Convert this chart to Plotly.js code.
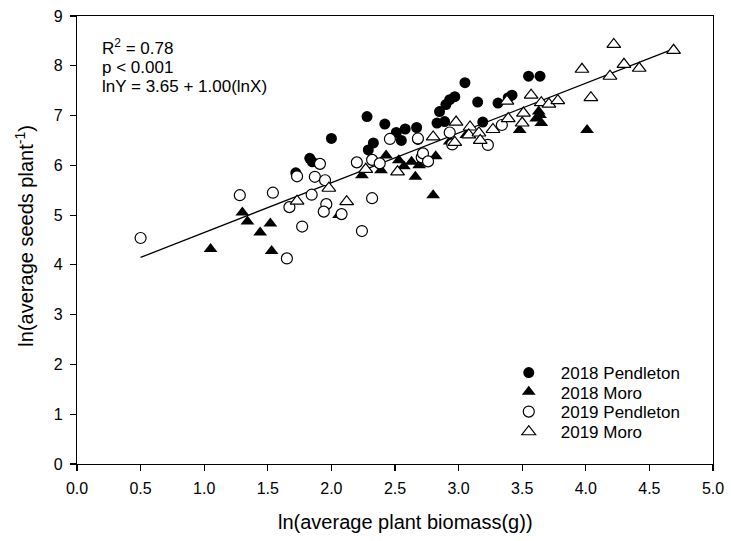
<!DOCTYPE html>
<html>
<head>
<meta charset="utf-8">
<script src="https://cdn.plot.ly/plotly-3.0.1.min.js"></script>
<style>
  html, body { margin: 0; padding: 0; background: #fff; }
  #chart { width: 731px; height: 541px; }
</style>
</head>
<body>
<div id="chart"></div>
<script>
// ln(average plant biomass) vs ln(average seeds per plant), by year and site
const pend18X = [1.72, 1.83, 1.85, 2.00, 2.28, 2.29, 2.33, 2.42, 2.51, 2.55, 2.58, 2.67, 2.68, 2.83, 2.85, 2.89, 2.90, 2.93, 2.97, 3.05, 3.15, 3.19, 3.31, 3.39, 3.42, 3.55, 3.64];
const pend18Y = [5.85, 6.14, 6.07, 6.54, 6.98, 6.31, 6.45, 6.83, 6.66, 6.50, 6.73, 6.76, 6.52, 6.85, 7.08, 6.88, 7.22, 7.32, 7.38, 7.66, 7.27, 6.87, 7.25, 7.36, 7.41, 7.79, 7.79];

const moro18X = [1.05, 1.30, 1.34, 1.44, 1.52, 1.53, 2.06, 2.24, 2.39, 2.43, 2.53, 2.57, 2.63, 2.69, 2.66, 2.82, 2.80, 2.93, 3.06, 3.48, 3.61, 3.63, 3.64, 3.65, 4.01];
const moro18Y = [4.32, 5.05, 4.87, 4.65, 4.83, 4.28, 5.00, 5.80, 5.90, 6.20, 6.10, 5.98, 6.07, 6.00, 5.77, 6.18, 5.40, 6.48, 6.61, 6.71, 6.94, 7.08, 7.01, 6.85, 6.71];

const pend19X = [0.50, 1.28, 1.54, 1.65, 1.67, 1.73, 1.77, 1.845, 1.87, 1.91, 1.95, 1.96, 1.94, 2.08, 2.24, 2.32, 2.20, 2.32, 2.38, 2.46, 2.68, 2.71, 2.72, 2.76, 2.93, 2.95, 3.23, 3.34];
const pend19Y = [4.54, 5.40, 5.45, 4.13, 5.16, 5.78, 4.77, 5.41, 5.77, 6.03, 5.70, 5.22, 5.07, 5.02, 4.68, 5.34, 6.06, 6.11, 6.04, 6.53, 6.54, 6.16, 6.24, 6.08, 6.66, 6.42, 6.41, 6.81];

const moro19X = [1.73, 1.98, 2.12, 2.27, 2.52, 2.80, 2.98, 2.97, 3.09, 3.08, 3.16, 3.17, 3.27, 3.39, 3.38, 3.50, 3.51, 3.57, 3.65, 3.71, 3.78, 3.97, 4.04, 4.19, 4.22, 4.30, 4.42, 4.69];
const moro19Y = [5.28, 5.54, 5.27, 5.92, 5.87, 6.57, 6.87, 6.46, 6.77, 6.61, 6.65, 6.50, 6.72, 6.94, 7.29, 6.85, 7.05, 7.41, 7.26, 7.23, 7.30, 7.93, 7.36, 7.79, 8.43, 8.03, 7.95, 8.31];

// fitted regression: lnY = 3.65 + 1.00(lnX)
const fitIntercept = 3.65;
const fitSlope = 1.00;
const fitX = [0.50, 4.68];
const fitY = fitX.map(x => fitIntercept + fitSlope * x);

const statLines = ['R<sup>2</sup> = 0.78', 'p &lt; 0.001', 'lnY = 3.65 + 1.00(lnX)'];
const seriesNames = ['2018 Pendleton', '2018 Moro', '2019 Pendleton', '2019 Moro'];

const FONT = 'Arial, "Liberation Sans", sans-serif';

function pts(x, y, name, symbol, filled, legendId) {
  return {
    x: x, y: y, name: name, type: 'scatter', mode: 'markers',
    legend: legendId,
    marker: {
      symbol: symbol,
      size: symbol === 'circle' ? 11 : 12,
      color: filled ? '#000' : '#fff',
      line: { color: '#000', width: filled ? 0 : 1.2 }
    },
    hoverinfo: 'x+y'
  };
}

const traces = [
  {
    x: fitX, y: fitY, type: 'scatter', mode: 'lines',
    line: { color: '#000', width: 1.3 }, showlegend: false, hoverinfo: 'skip'
  },
  pts(pend18X, pend18Y, seriesNames[0], 'circle', true, 'legend'),
  pts(moro18X, moro18Y, seriesNames[1], 'triangle-up', true, 'legend2'),
  pts(pend19X, pend19Y, seriesNames[2], 'circle', false, 'legend3'),
  pts(moro19X, moro19Y, seriesNames[3], 'triangle-up', false, 'legend4')
];

function legendAt(y) {
  return {
    x: 0.66, y: y, xanchor: 'left', yanchor: 'middle',
    bgcolor: 'rgba(0,0,0,0)', borderwidth: 0,
    font: { family: FONT, size: 17, color: '#000' },
    itemwidth: 54
  };
}

const axisCommon = {
  showline: true, linecolor: '#000', linewidth: 1.2, mirror: true,
  ticks: 'outside', ticklen: 6, tickwidth: 1.2, tickcolor: '#000',
  showgrid: false, zeroline: false,
  tickfont: { family: FONT, size: 16, color: '#000' }
};

const layout = {
  width: 731, height: 541,
  margin: { l: 77, r: 18, t: 16, b: 77 },
  paper_bgcolor: '#fff', plot_bgcolor: '#fff',
  font: { family: FONT, color: '#000' },
  xaxis: Object.assign({}, axisCommon, {
    range: [0, 5], dtick: 0.5, tick0: 0, tickformat: '.1f', ticklabelstandoff: 4
  }),
  yaxis: Object.assign({}, axisCommon, {
    range: [0, 9], dtick: 1, tick0: 0, ticklabelstandoff: 4
  }),
  legend: legendAt(0.203),
  legend2: legendAt(0.160),
  legend3: legendAt(0.116),
  legend4: legendAt(0.071),
  annotations: [
    {
      text: 'ln(average plant biomass(g))', xref: 'paper', yref: 'paper',
      x: 0.516, y: -0.129, xanchor: 'center', yanchor: 'middle',
      showarrow: false, font: { family: FONT, size: 20 }
    },
    {
      text: 'ln(average seeds plant<sup>-1</sup>)', xref: 'paper', yref: 'paper',
      x: -0.083, y: 0.508, xanchor: 'center', yanchor: 'middle', textangle: -90,
      showarrow: false, font: { family: FONT, size: 20 }
    }
  ].concat(statLines.map((t, i) => ({
    text: t, xref: 'paper', yref: 'paper',
    x: 0.037, y: 0.903 - i * 0.0424, xanchor: 'left', yanchor: 'bottom',
    borderpad: 0,
    showarrow: false, font: { family: FONT, size: 17 }
  })))
};

Plotly.newPlot('chart', traces, layout, { displayModeBar: false, staticPlot: true });
</script>
</body>
</html>
